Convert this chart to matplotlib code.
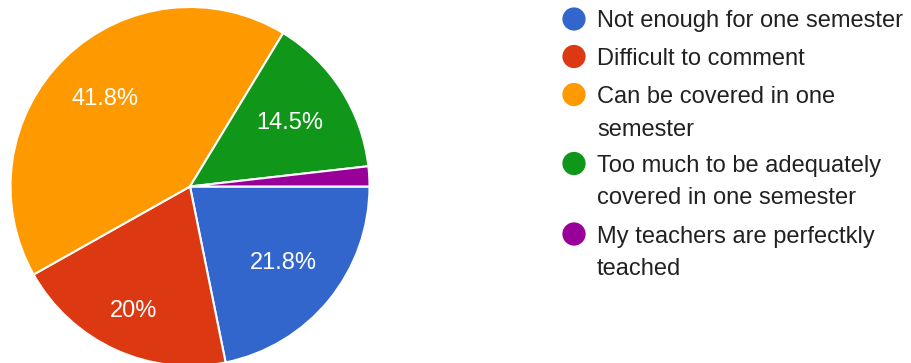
import numpy as np
import matplotlib
matplotlib.use("Agg")
import matplotlib.pyplot as plt

categories = ["Not enough for one semester",
              "Difficult to comment",
              "Can be covered in one\nsemester",
              "Too much to be adequately\ncovered in one semester",
              "My teachers are perfectkly\nteached"]
values = [21.8, 20.0, 41.8, 14.5, 1.8]
pct_labels = ["21.8%", "20%", "41.8%", "14.5%", ""]
colors = ["#3366CC", "#DC3912", "#FF9900", "#109618", "#990099"]

plt.rcParams['font.family'] = ['Liberation Sans', 'DejaVu Sans']

W, H = 912, 363
fig = plt.figure(figsize=(W / 100, H / 100), dpi=100)

# pie axes: center (190, 186.5) px, radius 179.5 px
cx, cy, r = 190.0, 186.5, 179.5
ax = fig.add_axes([(cx - r) / W, (H - cy - r) / H, 2 * r / W, 2 * r / H])
wedges, _ = ax.pie(values, colors=colors, startangle=0, counterclock=False,
                   radius=1.0,
                   wedgeprops=dict(edgecolor="white", linewidth=1.5))
ax.set_xlim(-1, 1)
ax.set_ylim(-1, 1)
ax.set_aspect("equal")
ax.axis("off")

label_dist = [0.675, 0.76, 0.68, 0.66, 0.7]
for w, lab, d in zip(wedges, pct_labels, label_dist):
    if not lab:
        continue
    ang = np.deg2rad((w.theta1 + w.theta2) / 2)
    ax.text(d * np.cos(ang), d * np.sin(ang), lab, ha="center", va="center",
            color="white", fontsize=17)

# legend in pixel coordinates
lax = fig.add_axes([0, 0, 1, 1], zorder=-1)
lax.set_xlim(0, W)
lax.set_ylim(H, 0)
lax.axis("off")
entry_y = [19, 56.5, 94.5, 163.5, 234]
line_h = 32.5
for cat, col, y in zip(categories, colors, entry_y):
    lax.scatter([574], [y], s=280, color=col, edgecolors="none")
    for i, line in enumerate(cat.split("\n")):
        lax.text(597, y + i * line_h, line, ha="left", va="center_baseline",
                 fontsize=17, color="#212121")

fig.savefig("out.png", dpi=100)
